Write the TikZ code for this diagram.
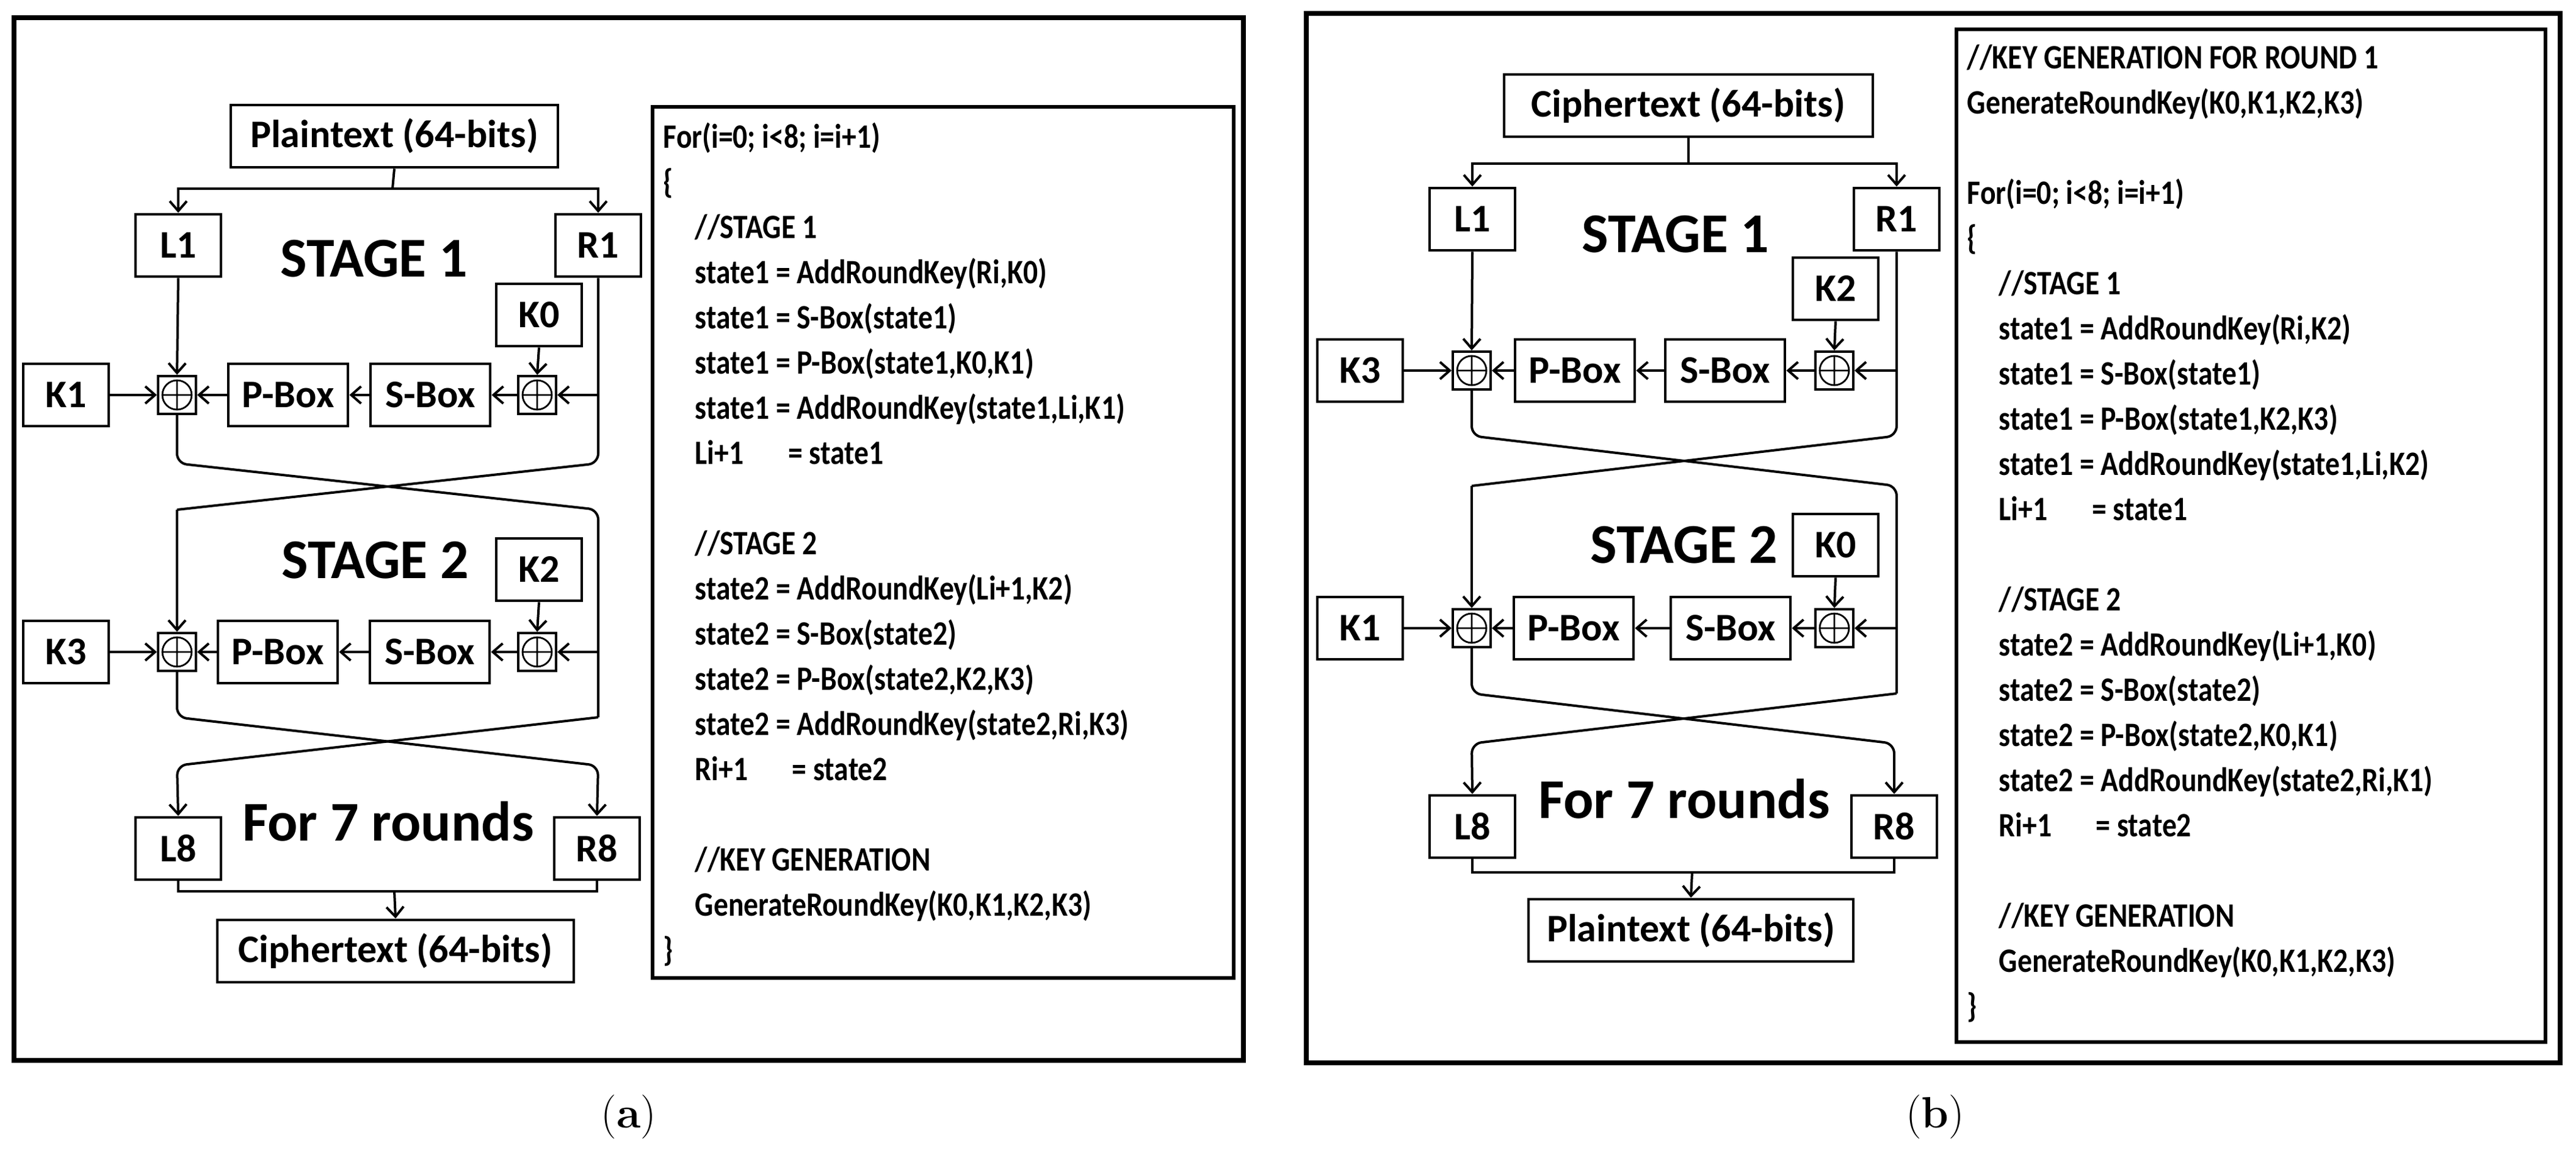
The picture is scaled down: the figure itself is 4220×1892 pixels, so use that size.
\documentclass[tikz,border=0pt]{standalone}
\usepackage{fontspec}
\newfontfamily\diagfont{Carlito}
\newfontfamily\codefont{Carlito}[FakeStretch=0.85]
\usetikzlibrary{arrows.meta,positioning}

\tikzset{
  blk/.style={draw,line width=1.2pt,font=\diagfont\bfseries\fontsize{16}{18}\selectfont,
    minimum height=25.5pt,inner sep=2pt},
  keyb/.style={blk,minimum width=35pt},
  procb/.style={blk,minimum width=49pt},
  txtb/.style={blk,minimum width=#1},
  xorb/.style={draw,line width=1pt,minimum size=15.5pt,inner sep=0pt,
    path picture={\draw[line width=0.7pt,shift={(path picture bounding box.center)}]
      (0pt,0pt) circle[radius=6pt] (-6pt,0pt)--(6pt,0pt) (0pt,-6pt)--(0pt,6pt);}},
  stage/.style={font=\diagfont\bfseries\fontsize{23}{25}\selectfont},
  rounds/.style={font=\diagfont\bfseries\fontsize{23}{25}\selectfont},
  code/.style={anchor=north west,inner sep=0pt,align=left,
    font=\codefont\bfseries\fontsize{14}{18.5}\selectfont},
  frame/.style={draw,line width=#1},
  conn/.style={line width=1pt},
}
\newcommand{\ind}{\hspace*{13pt}}

\begin{document}
\begin{tikzpicture}[x=0.25pt,y=-0.25pt,>={Straight Barb[length=4pt,width=7pt]}]
  \useasboundingbox (0,0) rectangle (4220,1892);

  % (a) encryption
  \draw[frame=2pt] (23,29) rectangle (2037,1737);
  \draw[frame=1.5pt] (1069,175) rectangle (2021,1602);

  \node[txtb=134pt] (pta) at (646,223) {Plaintext (64-bits)};
  \node[keyb] (L1a) at (292,402) {L1};
  \node[keyb] (R1a) at (980,402) {R1};
  \node[stage] (st1a) at (613,424) {STAGE 1};
  \node[keyb] (K0a) at (883,516) {K0};
  \node[keyb] (K1a) at (108,647) {K1};
  \node[xorb] (xl1a) at (290,647) {};
  \node[procb] (pb1a) at (472,647) {P-Box};
  \node[procb] (sb1a) at (705,647) {S-Box};
  \node[xorb] (xr1a) at (880,647) {};

  \node[stage] (st2a) at (615,918) {STAGE 2};
  \node[keyb] (K2a) at (883,933) {K2};
  \node[keyb] (K3a) at (108,1068) {K3};
  \node[xorb] (xl2a) at (290,1068) {};
  \node[procb] (pb2a) at (455,1068) {P-Box};
  \node[procb] (sb2a) at (704,1068) {S-Box};
  \node[xorb] (xr2a) at (880,1068) {};

  \node[keyb] (L8a) at (292,1390) {L8};
  \node[keyb] (R8a) at (978,1390) {R8};
  \node[rounds] (rnda) at (636,1346) {For 7 rounds};
  \node[txtb=146pt] (cta) at (648,1558) {Ciphertext (64-bits)};

  \coordinate (spa) at (643,309);
  \coordinate (b1la) at (290,759);  \coordinate (b1ra) at (980,759);
  \coordinate (t2la) at (290,835);  \coordinate (t2ra) at (980,835);
  \coordinate (b2la) at (290,1175); \coordinate (b2ra) at (980,1175);
  \coordinate (t3la) at (290,1254); \coordinate (t3ra) at (980,1254);
  \coordinate (jna) at (646,1460);

  \draw[conn] (pta.south) -- (spa);
  \draw[conn,->] (spa) -| (L1a.north);
  \draw[conn,->] (spa) -| (R1a.north);
  \draw[conn,->] (L1a.south) -- (xl1a.north);
  \draw[conn,->] (K0a.south) -- (xr1a.north);
  \draw[conn,->] (K1a.east) -- (xl1a.west);
  \draw[conn,->] (xr1a.west) -- (sb1a.east);
  \draw[conn,->] (sb1a.west) -- (pb1a.east);
  \draw[conn,->] (pb1a.west) -- (xl1a.east);
  \draw[conn,->] (R1a |- xr1a) -- (xr1a.east);
  \draw[conn,rounded corners=4pt] (R1a.south) -- (b1ra) -- (t2la);
  \draw[conn,->] (t2la) -- (xl2a.north);
  \draw[conn,rounded corners=4pt] (xl1a.south) -- (b1la) -- (t2ra) -- (b2ra);
  \draw[conn,->] (K2a.south) -- (xr2a.north);
  \draw[conn,->] (K3a.east) -- (xl2a.west);
  \draw[conn,->] (xr2a.west) -- (sb2a.east);
  \draw[conn,->] (sb2a.west) -- (pb2a.east);
  \draw[conn,->] (pb2a.west) -- (xl2a.east);
  \draw[conn,->] (t2ra |- xr2a) -- (xr2a.east);
  \draw[conn,rounded corners=4pt,->] (xl2a.south) -- (b2la) -- (t3ra) -- (R8a.north);
  \draw[conn,rounded corners=4pt,->] (b2ra) -- (t3la) -- (L8a.north);
  \draw[conn] (L8a.south) |- (jna) -| (R8a.south);
  \draw[conn,->] (jna) -- (cta.north);

  \node[code] (codea) at (1086,200) {For(i=0; i{\textless}8; i=i+1)\\
    \{\\
    \ind//STAGE 1\\
    \ind state1 = AddRoundKey(Ri,K0)\\
    \ind state1 = S-Box(state1)\\
    \ind state1 = P-Box(state1,K0,K1)\\
    \ind state1 = AddRoundKey(state1,Li,K1)\\
    \ind Li+1\hspace{1.3em}= state1\\[18.5pt]
    \ind//STAGE 2\\
    \ind state2 = AddRoundKey(Li+1,K2)\\
    \ind state2 = S-Box(state2)\\
    \ind state2 = P-Box(state2,K2,K3)\\
    \ind state2 = AddRoundKey(state2,Ri,K3)\\
    \ind Ri+1\hspace{1.3em}= state2\\[18.5pt]
    \ind//KEY GENERATION\\
    \ind GenerateRoundKey(K0,K1,K2,K3)\\
    \}};
  \node[font=\fontsize{18}{20}\selectfont] (capa) at (1030,1830) {(\textbf{a})};

  % (b) decryption
  \draw[frame=2pt] (2140,22) rectangle (4194,1741);
  \draw[frame=1.5pt] (3205,48) rectangle (4170,1707);

  \node[txtb=151pt] (ctb) at (2766,173) {Ciphertext (64-bits)};
  \node[keyb] (L1b) at (2412,359) {L1};
  \node[keyb] (R1b) at (3107,359) {R1};
  \node[stage] (st1b) at (2745,384) {STAGE 1};
  \node[keyb] (K2b) at (3007,473) {K2};
  \node[keyb] (K3b) at (2228,607) {K3};
  \node[xorb] (xl1b) at (2411,607) {};
  \node[procb] (pb1b) at (2580,607) {P-Box};
  \node[procb] (sb1b) at (2826,607) {S-Box};
  \node[xorb] (xr1b) at (3005,607) {};

  \node[stage] (st2b) at (2759,893) {STAGE 2};
  \node[keyb] (K0b) at (3007,893) {K0};
  \node[keyb] (K1b) at (2228,1029) {K1};
  \node[xorb] (xl2b) at (2411,1029) {};
  \node[procb] (pb2b) at (2578,1029) {P-Box};
  \node[procb] (sb2b) at (2835,1029) {S-Box};
  \node[xorb] (xr2b) at (3005,1029) {};

  \node[keyb] (L8b) at (2412,1354) {L8};
  \node[keyb] (R8b) at (3103,1354) {R8};
  \node[rounds] (rndb) at (2759,1309) {For 7 rounds};
  \node[txtb=133pt] (ptb) at (2770,1524) {Plaintext (64-bits)};

  \coordinate (spb) at (2766,268);
  \coordinate (b1lb) at (2411,714);  \coordinate (b1rb) at (3107,714);
  \coordinate (t2lb) at (2411,796);  \coordinate (t2rb) at (3107,796);
  \coordinate (b2lb) at (2411,1136); \coordinate (b2rb) at (3107,1136);
  \coordinate (t3lb) at (2411,1218); \coordinate (t3rb) at (3103,1218);
  \coordinate (jnb) at (2772,1429);

  \draw[conn] (ctb.south) -- (spb);
  \draw[conn,->] (spb) -| (L1b.north);
  \draw[conn,->] (spb) -| (R1b.north);
  \draw[conn,->] (L1b.south) -- (xl1b.north);
  \draw[conn,->] (K2b.south) -- (xr1b.north);
  \draw[conn,->] (K3b.east) -- (xl1b.west);
  \draw[conn,->] (xr1b.west) -- (sb1b.east);
  \draw[conn,->] (sb1b.west) -- (pb1b.east);
  \draw[conn,->] (pb1b.west) -- (xl1b.east);
  \draw[conn,->] (R1b |- xr1b) -- (xr1b.east);
  \draw[conn,rounded corners=4pt] (R1b.south) -- (b1rb) -- (t2lb);
  \draw[conn,->] (t2lb) -- (xl2b.north);
  \draw[conn,rounded corners=4pt] (xl1b.south) -- (b1lb) -- (t2rb) -- (b2rb);
  \draw[conn,->] (K0b.south) -- (xr2b.north);
  \draw[conn,->] (K1b.east) -- (xl2b.west);
  \draw[conn,->] (xr2b.west) -- (sb2b.east);
  \draw[conn,->] (sb2b.west) -- (pb2b.east);
  \draw[conn,->] (pb2b.west) -- (xl2b.east);
  \draw[conn,->] (t2rb |- xr2b) -- (xr2b.east);
  \draw[conn,rounded corners=4pt,->] (xl2b.south) -- (b2lb) -- (t3rb) -- (R8b.north);
  \draw[conn,rounded corners=4pt,->] (b2rb) -- (t3lb) -- (L8b.north);
  \draw[conn] (L8b.south) |- (jnb) -| (R8b.south);
  \draw[conn,->] (jnb) -- (ptb.north);

  \node[code] (codeb) at (3222,72) {//KEY GENERATION FOR ROUND 1\\
    GenerateRoundKey(K0,K1,K2,K3)\\[18.5pt]
    For(i=0; i{\textless}8; i=i+1)\\
    \{\\
    \ind//STAGE 1\\
    \ind state1 = AddRoundKey(Ri,K2)\\
    \ind state1 = S-Box(state1)\\
    \ind state1 = P-Box(state1,K2,K3)\\
    \ind state1 = AddRoundKey(state1,Li,K2)\\
    \ind Li+1\hspace{1.3em}= state1\\[18.5pt]
    \ind//STAGE 2\\
    \ind state2 = AddRoundKey(Li+1,K0)\\
    \ind state2 = S-Box(state2)\\
    \ind state2 = P-Box(state2,K0,K1)\\
    \ind state2 = AddRoundKey(state2,Ri,K1)\\
    \ind Ri+1\hspace{1.3em}= state2\\[18.5pt]
    \ind//KEY GENERATION\\
    \ind GenerateRoundKey(K0,K1,K2,K3)\\
    \}};
  \node[font=\fontsize{18}{20}\selectfont] (capb) at (3170,1830) {(\textbf{b})};
\end{tikzpicture}
\end{document}
